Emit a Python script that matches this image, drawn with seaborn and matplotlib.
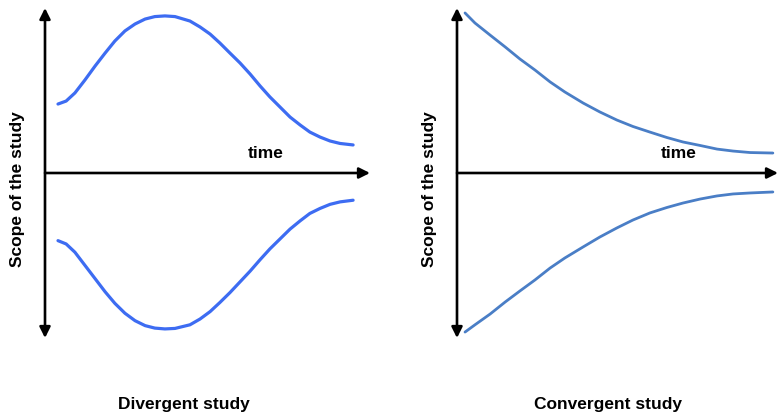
"""Divergent vs convergent study scope sketch."""
import matplotlib
matplotlib.use("Agg")
import matplotlib.pyplot as plt
import seaborn as sns

# divergent study: scope over time (upper and lower bounds)
div_time = [0.40, 0.65, 0.92, 1.23, 1.54, 1.85, 2.15, 2.46, 2.77, 3.08, 3.38, 3.69, 4.00,
            4.46, 4.77, 5.08, 5.38, 5.69, 6.00, 6.31, 6.62, 6.92, 7.23, 7.54, 7.85, 8.15,
            8.46, 8.77, 9.08, 9.48]
div_upper = [4.18, 4.36, 4.85, 5.64, 6.48, 7.27, 8.00, 8.61, 9.03, 9.33, 9.48, 9.52, 9.48,
             9.21, 8.85, 8.42, 7.88, 7.27, 6.67, 6.00, 5.27, 4.61, 4.00, 3.39, 2.91, 2.48,
             2.18, 1.94, 1.79, 1.70]
div_lower = [-4.10, -4.30, -4.80, -5.60, -6.40, -7.20, -7.90, -8.50, -8.95, -9.25, -9.40,
             -9.45, -9.42, -9.20, -8.85, -8.40, -7.85, -7.25, -6.60, -5.95, -5.25, -4.60,
             -4.00, -3.40, -2.90, -2.45, -2.15, -1.90, -1.75, -1.65]

# convergent study
conv_time = [0.25, 0.56, 1.03, 1.50, 1.96, 2.43, 2.90, 3.36, 3.93, 4.45, 4.98, 5.48, 6.01,
             6.54, 7.04, 7.57, 8.10, 8.60, 9.13, 9.84]
conv_upper = [9.70, 9.09, 8.36, 7.64, 6.91, 6.24, 5.52, 4.91, 4.24, 3.70, 3.21, 2.82, 2.48,
              2.15, 1.88, 1.67, 1.45, 1.33, 1.24, 1.21]
conv_lower = [-9.64, -9.20, -8.55, -7.82, -7.15, -6.48, -5.76, -5.15, -4.48, -3.88, -3.33,
              -2.85, -2.42, -2.09, -1.82, -1.58, -1.39, -1.27, -1.21, -1.15]

panel_titles = ["Divergent study", "Convergent study"]
x_label = "time"
y_label = "Scope of the study"

sns.set_style("white")
plt.rcParams["font.family"] = ["Liberation Sans", "DejaVu Sans"]
plt.rcParams["text.color"] = "black"

W, H = 780, 416
fig = plt.figure(figsize=(W / 100, H / 100), dpi=100)

# axes boxes in pixels: left, right, top, bottom; plus title centre x
boxes = [(45, 370, 8, 338, 184), (457, 778, 8, 338, 608)]
curves = [
    (div_time, div_upper, div_lower, "#3d6cf2", 2.3),
    (conv_time, conv_upper, conv_lower, "#4a7ec6", 2.0),
]

arrow_kw = dict(arrowstyle="-|>", color="black", lw=1.9, mutation_scale=16, shrinkA=0, shrinkB=0)

for (l, r, t, b, tx), (tm, up, lo, col, lw), title in zip(boxes, curves, panel_titles):
    ax = fig.add_axes([l / W, 1 - b / H, (r - l) / W, (b - t) / H])
    sns.lineplot(x=tm, y=up, ax=ax, color=col, linewidth=lw, solid_capstyle="round")
    sns.lineplot(x=tm, y=lo, ax=ax, color=col, linewidth=lw, solid_capstyle="round")
    ax.set_xlim(0, 10)
    ax.set_ylim(-10, 10)
    ax.axis("off")

    # time axis and double-headed scope axis
    ax.annotate("", xy=(10, 0), xytext=(0, 0), arrowprops=arrow_kw, annotation_clip=False)
    ax.annotate("", xy=(0, 10), xytext=(0, -10), annotation_clip=False,
                arrowprops={**arrow_kw, "arrowstyle": "<|-|>"})

    ax.text(6.8 if l < 100 else 6.9, 1.2, x_label, fontsize=12.5, fontweight="bold",
            ha="center", va="center")
    ax.text(-0.85, -1.0, y_label, fontsize=12.5, fontweight="bold", rotation=90,
            ha="center", va="center")
    fig.text(tx / W, 1 - 405 / H, title, fontsize=12.5, fontweight="bold",
             ha="center", va="center")

fig.savefig("out.png", dpi=100)
